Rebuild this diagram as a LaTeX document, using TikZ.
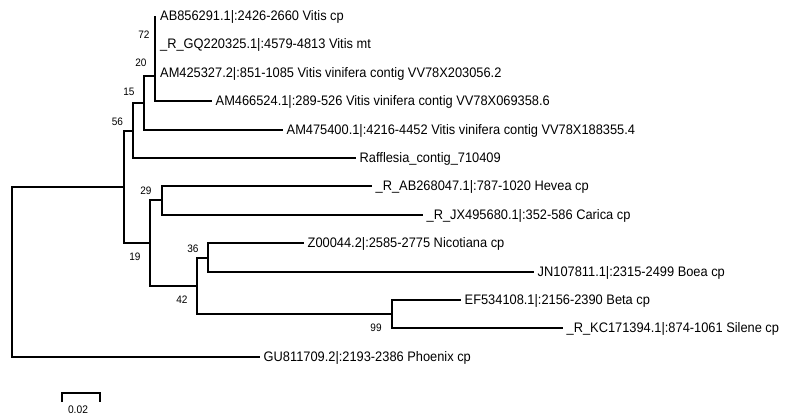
\documentclass[tikz,border=0pt]{standalone}
\usepackage{fontspec}
\setmainfont{Liberation Sans}[FakeStretch=0.93]
\begin{document}
\begin{tikzpicture}[x={(1pt,0)},y={(0,-1pt)},
  br/.style={line width=1.8pt,black},
  leaf/.style={anchor=base west,inner sep=0pt,xshift=3.5pt,yshift=-4.9pt,font=\fontsize{13.8}{16}\selectfont},
  bs/.style={inner sep=0pt,font=\fontsize{10.8}{12}\selectfont},
  sclab/.style={inner sep=0pt,font=\fontsize{11}{13}\selectfont}]
\useasboundingbox (0,0) rectangle (796,416);
% leaf tips
\coordinate (t1) at (155,16);
\coordinate (t2) at (155,44);
\coordinate (t3) at (155,73);
\coordinate (t4) at (212,101);
\coordinate (t5) at (283,130);
\coordinate (t6) at (356,158);
\coordinate (t7) at (372,186);
\coordinate (t8) at (423,215);
\coordinate (t9) at (304,243);
\coordinate (t10) at (534,272);
\coordinate (t11) at (461,300);
\coordinate (t12) at (563,328);
\coordinate (t13) at (260,357);
% internal nodes
\coordinate (root) at (12,272);
\coordinate (a) at (124,187);
\coordinate (b) at (133,131);
\coordinate (c) at (144,103);
\coordinate (d) at (155,76);
\coordinate (d2) at (155,52);
\coordinate (e) at (155,30);
\coordinate (f) at (150,243);
\coordinate (g) at (162,200);
\coordinate (h) at (197,286);
\coordinate (i) at (208,258);
\coordinate (j) at (392,314);
% branches
\draw[br] (root) |- (a);
\draw[br] (root) |- (t13);
\draw[br] (a) |- (b);
\draw[br] (a) |- (f);
\draw[br] (b) |- (c);
\draw[br] (b) |- (t6);
\draw[br] (c) |- (d);
\draw[br] (c) |- (t5);
\draw[br] (d) |- (d2);
\draw[br] (d) |- (t4);
\draw[br] (d2) |- (e);
\draw[br] (d2) |- (t3);
\draw[br] (e) |- (t1);
\draw[br] (e) |- (t2);
\draw[br] (f) |- (g);
\draw[br] (f) |- (h);
\draw[br] (g) |- (t7);
\draw[br] (g) |- (t8);
\draw[br] (h) |- (i);
\draw[br] (h) |- (j);
\draw[br] (i) |- (t9);
\draw[br] (i) |- (t10);
\draw[br] (j) |- (t11);
\draw[br] (j) |- (t12);
% leaf labels
\node[leaf,xshift=1.5pt] (L1) at (t1) {AB856291.1|:2426-2660 Vitis cp};
\node[leaf,xshift=1.5pt] (L2) at (t2) {\_R\_GQ220325.1|:4579-4813 Vitis mt};
\node[leaf,xshift=1.5pt] (L3) at (t3) {AM425327.2|:851-1085 Vitis vinifera contig VV78X203056.2};
\node[leaf] (L4) at (t4) {AM466524.1|:289-526 Vitis vinifera contig VV78X069358.6};
\node[leaf] (L5) at (t5) {AM475400.1|:4216-4452 Vitis vinifera contig VV78X188355.4};
\node[leaf] (L6) at (t6) {Rafflesia\_contig\_710409};
\node[leaf] (L7) at (t7) {\_R\_AB268047.1|:787-1020 Hevea cp};
\node[leaf] (L8) at (t8) {\_R\_JX495680.1|:352-586 Carica cp};
\node[leaf] (L9) at (t9) {Z00044.2|:2585-2775 Nicotiana cp};
\node[leaf] (L10) at (t10) {JN107811.1|:2315-2499 Boea cp};
\node[leaf] (L11) at (t11) {EF534108.1|:2156-2390 Beta cp};
\node[leaf] (L12) at (t12) {\_R\_KC171394.1|:874-1061 Silene cp};
\node[leaf] (L13) at (t13) {GU811709.2|:2193-2386 Phoenix cp};
% bootstrap values
\node[bs] (B72) at ([shift={(-11,-17.5)}]d2) {72};
\node[bs] (B20) at ([shift={(-14,-13)}]d) {20};
\node[bs] (B15) at ([shift={(-15,-11)}]c) {15};
\node[bs] (B56) at ([shift={(-15.5,-9.5)}]b) {56};
\node[bs] (B29) at ([shift={(-16,-9.6)}]g) {29};
\node[bs] (B36) at ([shift={(-15,-9.4)}]i) {36};
\node[bs] (B19) at ([shift={(-15,13.8)}]f) {19};
\node[bs] (B42) at ([shift={(-15,14.2)}]h) {42};
\node[bs] (B99) at ([shift={(-16,13.8)}]j) {99};
% scale bar
\coordinate (s1) at (62,393);
\coordinate (s2) at (100,393);
\draw[line width=1.8pt] ([yshift=-9pt]s1) -- (s1) -- (s2) -- ([yshift=-9pt]s2);
\node[sclab] (S) at (78,410) {0.02};
\end{tikzpicture}
\end{document}
